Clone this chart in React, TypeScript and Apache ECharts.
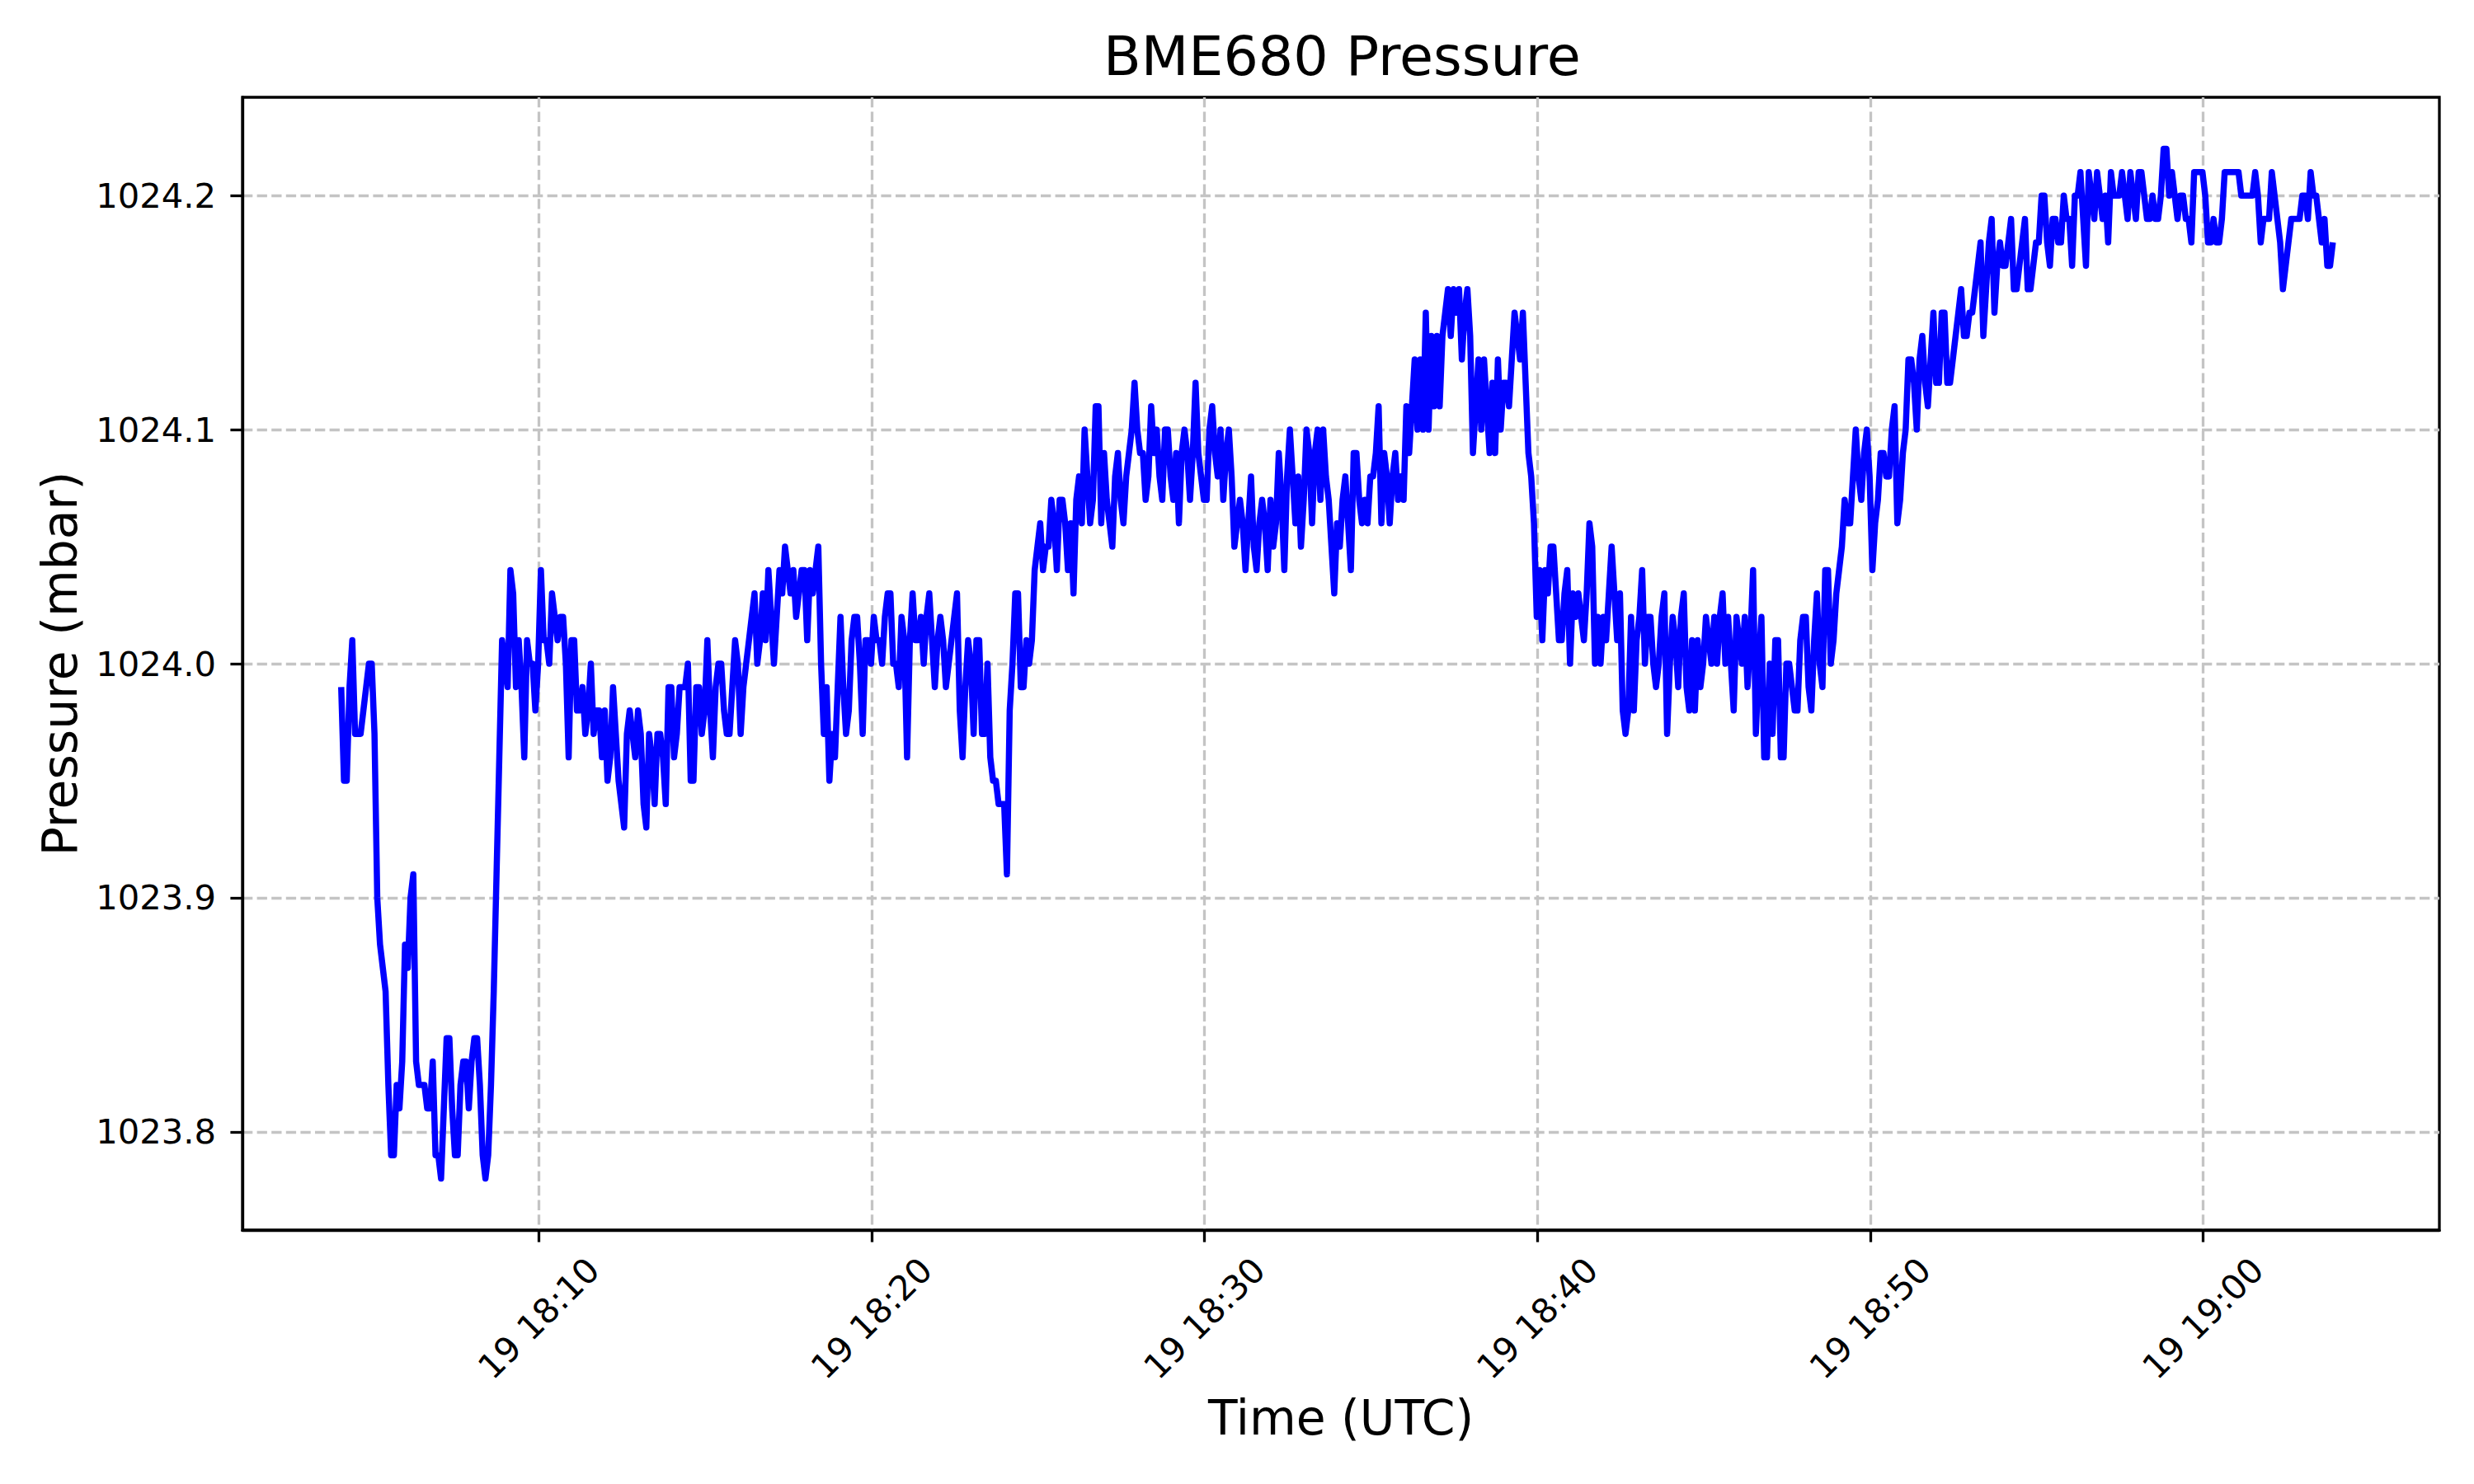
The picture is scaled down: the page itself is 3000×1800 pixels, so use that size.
import React, { useEffect, useRef } from "react";
import * as echarts from "echarts";

// Time base: minutes after 18:00 UTC on day 19; one reading every 5 s from 18:04:04
const START_MINUTE = 4 + 4 / 60;
const STEP_SECONDS = 5;

// Pressure readings (mbar), in ~10-minute blocks
const p1804 = [
  1023.99, 1023.95, 1023.95, 1023.99, 1024.01, 1023.97, 1023.97, 1023.97, 1023.98, 1023.99,
  1024.0, 1024.0, 1023.97, 1023.9, 1023.88, 1023.87, 1023.86, 1023.82, 1023.79, 1023.79,
  1023.82, 1023.81, 1023.83, 1023.88, 1023.87, 1023.9, 1023.91, 1023.83, 1023.82, 1023.82,
  1023.82, 1023.81, 1023.81, 1023.83, 1023.79, 1023.79, 1023.78, 1023.81, 1023.84, 1023.84,
  1023.81, 1023.79, 1023.79, 1023.82, 1023.83, 1023.83, 1023.81, 1023.83, 1023.84, 1023.84,
  1023.82, 1023.79, 1023.78, 1023.79, 1023.82, 1023.86, 1023.91, 1023.96, 1024.01, 1024.0,
  1023.99, 1024.04, 1024.03, 1023.99, 1024.01, 1023.99, 1023.96, 1024.01, 1024.0, 1024.0,
  1023.98, 1024.0, 1024.04, 1024.01, 1024.01, 1024.0, 1024.03, 1024.02, 1024.01, 1024.02,
  1024.02, 1024.0, 1023.96, 1024.01, 1024.01, 1023.98, 1023.98, 1023.99, 1023.97, 1023.98,
  1024.0, 1023.97, 1023.98, 1023.98, 1023.96, 1023.98, 1023.95, 1023.96, 1023.99, 1023.97,
  1023.95, 1023.94, 1023.93, 1023.97, 1023.98, 1023.97, 1023.96, 1023.98, 1023.97, 1023.94,
  1023.93, 1023.97, 1023.96, 1023.94, 1023.97, 1023.97, 1023.96, 1023.94, 1023.99, 1023.99,
  1023.96, 1023.97, 1023.99, 1023.99,
];
const p1814 = [
  1023.99, 1024.0, 1023.95, 1023.95, 1023.99, 1023.99, 1023.97, 1023.98, 1024.01, 1023.98,
  1023.96, 1023.99, 1024.0, 1024.0, 1023.98, 1023.97, 1023.97, 1023.99, 1024.01, 1024.0,
  1023.97, 1023.99, 1024.0, 1024.01, 1024.02, 1024.03, 1024.0, 1024.01, 1024.03, 1024.01,
  1024.04, 1024.02, 1024.0, 1024.02, 1024.04, 1024.03, 1024.05, 1024.04, 1024.03, 1024.04,
  1024.02, 1024.03, 1024.04, 1024.04, 1024.01, 1024.04, 1024.03, 1024.04, 1024.05, 1024.0,
  1023.97, 1023.99, 1023.95, 1023.97, 1023.96, 1023.99, 1024.02, 1023.99, 1023.97, 1023.98,
  1024.01, 1024.02, 1024.02, 1024.0, 1023.97, 1024.01, 1024.01, 1024.0, 1024.02, 1024.01,
  1024.01, 1024.0, 1024.02, 1024.03, 1024.03, 1024.0, 1024.0, 1023.99, 1024.02, 1024.01,
  1023.96, 1024.01, 1024.03, 1024.01, 1024.01, 1024.02, 1024.0, 1024.02, 1024.03, 1024.01,
  1023.99, 1024.01, 1024.02, 1024.01, 1023.99, 1024.0, 1024.01, 1024.02, 1024.03, 1023.98,
  1023.96, 1023.99, 1024.01, 1024.0, 1023.97, 1024.01, 1024.01, 1023.97, 1023.97, 1024.0,
  1023.96, 1023.95, 1023.95, 1023.94, 1023.94, 1023.94, 1023.91, 1023.98, 1024.0, 1024.03,
  1024.03, 1023.99, 1023.99, 1024.01,
];
const p1824 = [
  1024.0, 1024.01, 1024.04, 1024.05, 1024.06, 1024.04, 1024.05, 1024.05, 1024.07, 1024.06,
  1024.04, 1024.07, 1024.07, 1024.06, 1024.04, 1024.06, 1024.03, 1024.07, 1024.08, 1024.06,
  1024.1, 1024.08, 1024.06, 1024.07, 1024.11, 1024.11, 1024.06, 1024.09, 1024.07, 1024.06,
  1024.05, 1024.08, 1024.09, 1024.07, 1024.06, 1024.08, 1024.09, 1024.1, 1024.12, 1024.1,
  1024.09, 1024.09, 1024.07, 1024.08, 1024.11, 1024.09, 1024.1, 1024.08, 1024.07, 1024.1,
  1024.1, 1024.08, 1024.07, 1024.09, 1024.06, 1024.09, 1024.1, 1024.09, 1024.07, 1024.09,
  1024.12, 1024.09, 1024.08, 1024.07, 1024.07, 1024.1, 1024.11, 1024.09, 1024.08, 1024.1,
  1024.07, 1024.09, 1024.1, 1024.08, 1024.05, 1024.06, 1024.07, 1024.06, 1024.04, 1024.06,
  1024.08, 1024.05, 1024.04, 1024.06, 1024.07, 1024.06, 1024.04, 1024.07, 1024.05, 1024.06,
  1024.09, 1024.07, 1024.04, 1024.08, 1024.1, 1024.08, 1024.06, 1024.08, 1024.05, 1024.07,
  1024.1, 1024.09, 1024.06, 1024.09, 1024.1, 1024.07, 1024.1, 1024.08, 1024.07, 1024.05,
  1024.03, 1024.06, 1024.05, 1024.07, 1024.08, 1024.06, 1024.04, 1024.09, 1024.09, 1024.07,
  1024.06, 1024.07, 1024.06, 1024.08,
];
const p1835 = [
  1024.08, 1024.09, 1024.11, 1024.06, 1024.09, 1024.08, 1024.06, 1024.08, 1024.09, 1024.07,
  1024.08, 1024.07, 1024.11, 1024.09, 1024.11, 1024.13, 1024.1, 1024.13, 1024.1, 1024.15,
  1024.1, 1024.14, 1024.11, 1024.14, 1024.11, 1024.14, 1024.15, 1024.16, 1024.14, 1024.16,
  1024.15, 1024.16, 1024.13, 1024.15, 1024.16, 1024.14, 1024.09, 1024.11, 1024.13, 1024.1,
  1024.13, 1024.11, 1024.09, 1024.12, 1024.09, 1024.13, 1024.1, 1024.12, 1024.12, 1024.11,
  1024.13, 1024.15, 1024.14, 1024.13, 1024.15, 1024.12, 1024.09, 1024.08, 1024.06, 1024.02,
  1024.04, 1024.01, 1024.04, 1024.03, 1024.05, 1024.05, 1024.03, 1024.01, 1024.01, 1024.03,
  1024.04, 1024.0, 1024.03, 1024.02, 1024.03, 1024.02, 1024.01, 1024.03, 1024.06, 1024.05,
  1024.0, 1024.02, 1024.0, 1024.02, 1024.01, 1024.03, 1024.05, 1024.03, 1024.01, 1024.03,
  1023.98, 1023.97, 1023.98, 1024.02, 1023.98, 1024.01, 1024.02, 1024.04, 1024.0, 1024.02,
  1024.02, 1024.0, 1023.99, 1024.0, 1024.02, 1024.03, 1023.97, 1024.0, 1024.02, 1024.01,
  1023.99, 1024.02, 1024.03, 1023.99, 1023.98, 1024.01, 1023.98, 1024.01, 1023.99, 1024.0,
  1024.02, 1024.01, 1024.0, 1024.02, 1024.0, 1024.02,
];
const p1845 = [
  1024.03, 1024.0, 1024.02, 1024.0, 1023.98, 1024.02, 1024.01, 1024.0, 1024.02, 1023.99,
  1024.01, 1024.04, 1023.97, 1024.0, 1024.02, 1023.96, 1023.96, 1024.0, 1023.97, 1024.01,
  1024.01, 1023.96, 1023.96, 1024.0, 1024.0, 1023.99, 1023.98, 1023.98, 1024.01, 1024.02,
  1024.02, 1023.99, 1023.98, 1024.01, 1024.03, 1024.0, 1023.99, 1024.04, 1024.04, 1024.0,
  1024.01, 1024.03, 1024.04, 1024.05, 1024.07, 1024.06, 1024.06, 1024.08, 1024.1, 1024.08,
  1024.07, 1024.09, 1024.1, 1024.08, 1024.04, 1024.06, 1024.07, 1024.09, 1024.09, 1024.08,
  1024.08, 1024.1, 1024.11, 1024.06, 1024.07, 1024.09, 1024.1, 1024.13, 1024.13, 1024.12,
  1024.1, 1024.13, 1024.14, 1024.12, 1024.11, 1024.13, 1024.15, 1024.12, 1024.12, 1024.15,
  1024.15, 1024.12, 1024.12, 1024.13, 1024.14, 1024.15, 1024.16, 1024.14, 1024.14, 1024.15,
  1024.15, 1024.16, 1024.17, 1024.18, 1024.14, 1024.16, 1024.18, 1024.19, 1024.15, 1024.17,
  1024.18, 1024.17, 1024.17, 1024.18, 1024.19, 1024.16, 1024.16, 1024.17, 1024.18, 1024.19,
  1024.16, 1024.16, 1024.17, 1024.18, 1024.18, 1024.2, 1024.2, 1024.18, 1024.17, 1024.19,
  1024.19, 1024.18, 1024.18, 1024.2,
];
const p1855 = [
  1024.19, 1024.19, 1024.17, 1024.2, 1024.2, 1024.21, 1024.19, 1024.17, 1024.21, 1024.2,
  1024.19, 1024.21, 1024.2, 1024.19, 1024.2, 1024.18, 1024.21, 1024.2, 1024.2, 1024.2,
  1024.21, 1024.2, 1024.19, 1024.21, 1024.2, 1024.19, 1024.21, 1024.21, 1024.2, 1024.19,
  1024.19, 1024.2, 1024.19, 1024.19, 1024.2, 1024.22, 1024.22, 1024.2, 1024.21, 1024.2,
  1024.19, 1024.2, 1024.2, 1024.19, 1024.19, 1024.18, 1024.21, 1024.21, 1024.21, 1024.21,
  1024.2, 1024.18, 1024.18, 1024.19, 1024.18, 1024.18, 1024.19, 1024.21, 1024.21, 1024.21,
  1024.21, 1024.21, 1024.21, 1024.2, 1024.2, 1024.2, 1024.2, 1024.2, 1024.21, 1024.2,
  1024.18, 1024.19, 1024.19, 1024.19, 1024.21, 1024.2, 1024.19, 1024.18, 1024.16, 1024.17,
  1024.18, 1024.19, 1024.19, 1024.19, 1024.19, 1024.2, 1024.2, 1024.19, 1024.21, 1024.2,
  1024.2, 1024.19, 1024.18, 1024.19, 1024.17, 1024.17, 1024.18,
];
const pressure = [...p1804, ...p1814, ...p1824, ...p1835, ...p1845, ...p1855];

// Axis ranges and tick positions
const X_MIN = 1.1; // 18:01:06
const X_MAX = 67.1; // 19:07:06
const xTicks = [10, 20, 30, 40, 50, 60];
const Y_MIN = 1023.758;
const Y_MAX = 1024.242;
const yTicks = [1023.8, 1023.9, 1024.0, 1024.1, 1024.2];
const DAY = "19";

const FONT = "DejaVu Sans";

function fmtTime(v: number): string {
  const total = Math.round(v);
  const h = 18 + Math.floor(total / 60);
  const m = total % 60;
  return `${DAY} ${h}:${m < 10 ? "0" + m : m}`;
}

export default function App() {
  const ref = useRef<HTMLDivElement>(null);

  useEffect(() => {
    document.body.style.margin = "0";
    if (!ref.current) return;
    const chart = echarts.init(ref.current, undefined, { renderer: "svg" });
    const data = pressure.map((p, i) => [START_MINUTE + (i * STEP_SECONDS) / 60, p]);
    const gridLine = { color: "#c4c4c4", width: 3.3, type: [12.3, 5.3] as number[] };
    chart.setOption({
      animation: false,
      backgroundColor: "#ffffff",
      title: {
        text: "BME680 Pressure",
        left: 1338,
        top: 34,
        padding: 0,
        textStyle: { fontFamily: FONT, fontSize: 66.7, fontWeight: "normal", color: "#000" },
      },
      grid: {
        left: 294,
        right: 42,
        top: 118,
        bottom: 308,
        show: true,
        borderColor: "#000",
        borderWidth: 3.3,
        backgroundColor: "transparent",
        containLabel: false,
        outerBoundsMode: "none",
      },
      xAxis: {
        type: "value",
        min: X_MIN,
        max: X_MAX,
        name: "Time (UTC)",
        nameLocation: "middle",
        nameGap: 199,
        nameMoveOverlap: false,
        nameTextStyle: { fontFamily: FONT, fontSize: 58.3, color: "#000" },
        axisLine: { show: true, onZero: false, lineStyle: { color: "#000", width: 3.3 } },
        axisTick: {
          show: true,
          customValues: xTicks,
          length: 14.6,
          lineStyle: { color: "#000", width: 3.3 },
        },
        axisLabel: {
          customValues: xTicks,
          rotate: 45,
          align: "center",
          verticalAlign: "middle",
          margin: 107,
          fontFamily: FONT,
          fontSize: 41.7,
          color: "#000",
          formatter: (v: number) => fmtTime(v),
        },
        splitLine: { show: true, lineStyle: gridLine },
      },
      yAxis: {
        type: "value",
        min: Y_MIN,
        max: Y_MAX,
        name: "Pressure (mbar)",
        nameLocation: "middle",
        nameGap: 192,
        nameMoveOverlap: false,
        nameTextStyle: { fontFamily: FONT, fontSize: 58.3, color: "#000" },
        axisLine: { show: true, onZero: false, lineStyle: { color: "#000", width: 3.3 } },
        axisTick: {
          show: true,
          customValues: yTicks,
          length: 14.6,
          lineStyle: { color: "#000", width: 3.3 },
        },
        axisLabel: {
          customValues: yTicks,
          margin: 32,
          fontFamily: FONT,
          fontSize: 41.7,
          color: "#000",
          formatter: (v: number) => v.toFixed(1),
        },
        splitLine: { show: true, lineStyle: gridLine },
      },
      series: [
        {
          type: "line",
          data,
          showSymbol: false,
          symbol: "none",
          lineStyle: { color: "#0000ff", width: 7.5, join: "round" },
          z: 3,
        },
      ],
    });
    return () => chart.dispose();
  }, []);

  return <div ref={ref} style={{ width: 3000, height: 1800 }} />;
}
